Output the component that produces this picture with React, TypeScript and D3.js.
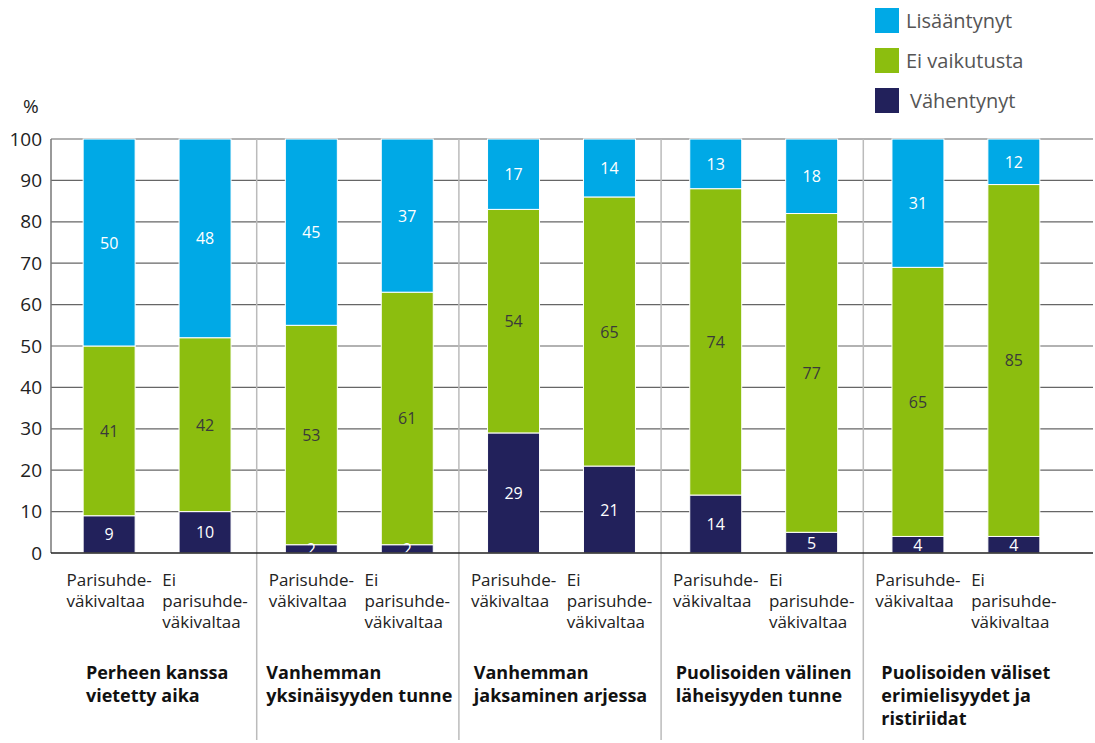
import React, { useEffect, useRef } from "react";
import * as d3 from "d3";

const groups = [
  ["Perheen kanssa", "vietetty aika"],
  ["Vanhemman", "yksinäisyyden tunne"],
  ["Vanhemman", "jaksaminen arjessa"],
  ["Puolisoiden välinen", "läheisyyden tunne"],
  ["Puolisoiden väliset", "erimielisyydet ja", "ristiriidat"],
];
const barLabels = [["Parisuhde-", "väkivaltaa"], ["Ei", "parisuhde-", "väkivaltaa"]];
const seriesNames = ["Vähentynyt", "Ei vaikutusta", "Lisääntynyt"];
const vahentynyt = [9, 10, 2, 2, 29, 21, 14, 5, 4, 4];
const eiVaikutusta = [41, 42, 53, 61, 54, 65, 74, 77, 65, 85];
const lisaantynyt = [50, 48, 45, 37, 17, 14, 13, 18, 31, 12];
const yTicks = [0, 10, 20, 30, 40, 50, 60, 70, 80, 90, 100];
const colors = ["#22215B", "#8CBE0F", "#00A9E6"];
const labelColors = ["#ffffff", "#3a3a3a", "#ffffff"];

const FONT = "'Open Sans', 'Noto Sans', sans-serif";

export default function App() {
  const ref = useRef<SVGSVGElement>(null);
  useEffect(() => {
    const svg = d3.select(ref.current);
    svg.selectAll("*").remove();
    const y = d3.scaleLinear().domain([0, 100]).range([553, 139]);
    const gx = d3.scaleBand<number>().domain(d3.range(5)).range([56, 1067]).paddingInner(0).paddingOuter(0);
    const bx = d3.scaleBand<number>().domain([0, 1]).range([0, gx.bandwidth()]).paddingInner(0.458).paddingOuter(0.283);
    const series = [vahentynyt, eiVaikutusta, lisaantynyt];

    // gridlines
    svg.append("g").selectAll("line").data(yTicks.filter((t) => t > 0)).join("line")
      .attr("x1", 51).attr("x2", 1093).attr("y1", (d) => y(d)).attr("y2", (d) => y(d))
      .attr("stroke", "#666").attr("stroke-width", 1.2);
    // separators
    svg.append("g").selectAll("line").data([1, 2, 3, 4]).join("line")
      .attr("x1", (d) => gx(d)! - 1.5).attr("x2", (d) => gx(d)! - 1.5)
      .attr("y1", 139).attr("y2", 740).attr("stroke", "#bbb").attr("stroke-width", 1.5);
    // y axis
    svg.append("line").attr("x1", 51).attr("x2", 51).attr("y1", 139).attr("y2", 553).attr("stroke", "#777").attr("stroke-width", 1.5);
    svg.append("g").selectAll("text").data(yTicks).join("text")
      .attr("x", 42).attr("y", (d) => y(d) + 6.5).attr("text-anchor", "end")
      .attr("font-family", FONT).attr("font-size", 19).attr("fill", "#222").text((d) => d);
    svg.append("text").attr("x", 23).attr("y", 113).attr("font-family", FONT).attr("font-size", 19).attr("fill", "#222").text("%");

    // bars
    const barsG = svg.append("g");
    for (let i = 0; i < 10; i++) {
      const g = Math.floor(i / 2);
      const b = i % 2;
      const x0 = gx(g)! + bx(b)!;
      const w = bx.bandwidth();
      let cum = 0;
      series.forEach((s, k) => {
        const v0 = cum;
        const v1 = Math.min(100, cum + s[i]);
        cum += s[i];
        barsG.append("rect").attr("x", x0).attr("width", w)
          .attr("y", y(v1)).attr("height", y(v0) - y(v1))
          .attr("fill", colors[k]).attr("stroke", "#fff").attr("stroke-width", 1);
      });
      cum = 0;
      series.forEach((s, k) => {
        const v0 = cum;
        const v1 = Math.min(100, cum + s[i]);
        cum += s[i];
        barsG.append("text").attr("x", x0 + w / 2).attr("y", (y(v0) + y(v1)) / 2 + 6)
          .attr("text-anchor", "middle").attr("font-family", FONT).attr("font-size", 16)
          .attr("fill", labelColors[k]).text(s[i]);
      });
      // category labels
      const lt = svg.append("text").attr("font-family", FONT).attr("font-size", 17).attr("fill", "#222");
      barLabels[b].forEach((line, li) => {
        lt.append("tspan").attr("x", 0).attr("y", 586 + li * 21).text(line);
      });
      const bw = (lt.node() as SVGTextElement).getBBox().width;
      lt.attr("transform", `translate(${x0 + w / 2 - bw / 2},0)`);
    }
    // bottom axis
    svg.append("line").attr("x1", 51).attr("x2", 1093).attr("y1", 553).attr("y2", 553).attr("stroke", "#222").attr("stroke-width", 1.5);

    // group titles
    groups.forEach((lines, g) => {
      const t = svg.append("text").attr("font-family", FONT).attr("font-size", 18).attr("font-weight", 700).attr("fill", "#111");
      lines.forEach((line, li) => {
        t.append("tspan").attr("x", 0).attr("y", 679 + li * 23).text(line);
      });
      const tw = (t.node() as SVGTextElement).getBBox().width;
      const cx = gx(g)! + gx.bandwidth() / 2;
      t.attr("transform", `translate(${cx - tw / 2},0)`);
    });

    // legend
    const legendOrder = [2, 1, 0];
    legendOrder.forEach((k, i) => {
      svg.append("rect").attr("x", 875).attr("y", 8 + i * 40).attr("width", 24).attr("height", 25).attr("fill", colors[k]);
      svg.append("text").attr("x", k === 0 ? 910 : 906).attr("y", 28 + i * 40)
        .attr("font-family", FONT).attr("font-size", 20).attr("fill", "#555").text(seriesNames[k]);
    });
  }, []);
  return (
    <svg ref={ref} width={1095} height={743} style={{ position: "absolute", left: 0, top: 0, background: "#fff" }} />
  );
}
